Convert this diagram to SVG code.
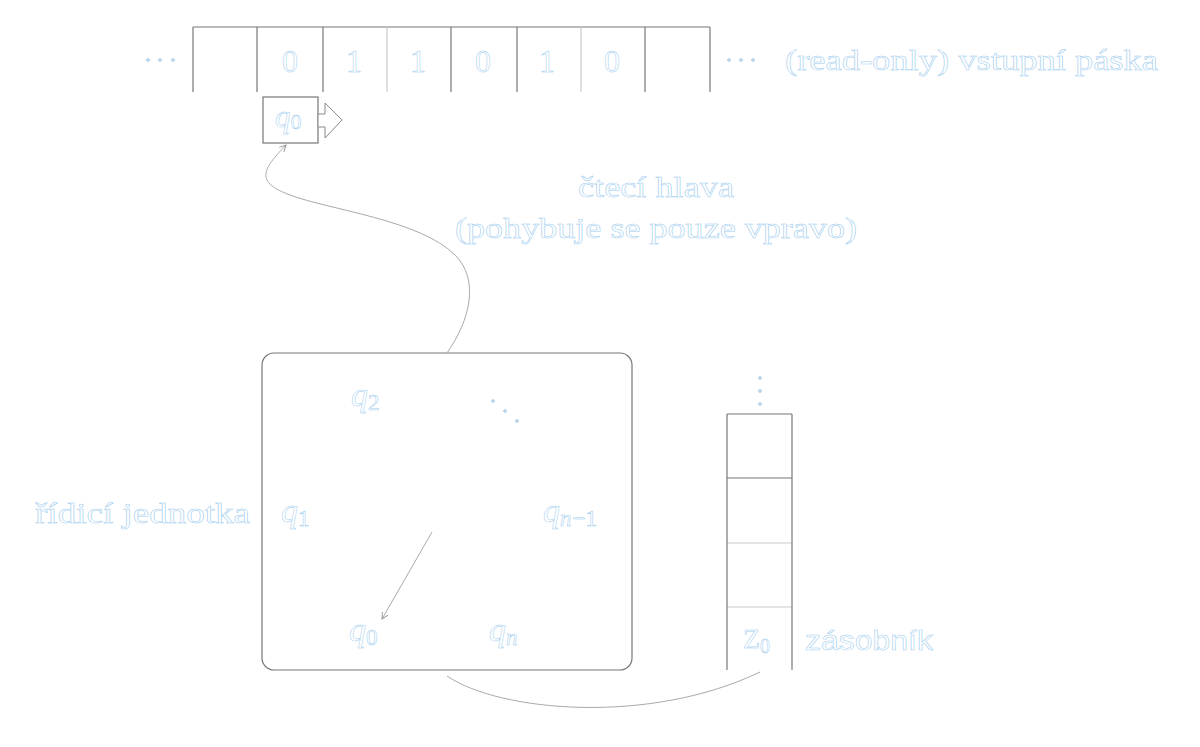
<svg xmlns="http://www.w3.org/2000/svg" width="1200" height="747" viewBox="0 0 1200 747">
<style>
.t{font-family:"Liberation Serif",serif;fill:#fff;stroke:#9ccbee;stroke-width:0.5}
.s{font-family:"Liberation Sans",sans-serif;fill:#fff;stroke:#9ccbee;stroke-width:0.5}
.m{font-family:"Liberation Serif",serif;font-style:italic;fill:#fff;stroke:#9ccbee;stroke-width:0.5}
.ln{fill:none;stroke:#777;stroke-width:1.2}
.lt{fill:none;stroke:#ccc;stroke-width:1.2}
.c{fill:none;stroke:#aaa;stroke-width:1}
.dot{fill:#fff;stroke:#7aaed8;stroke-width:0.8}
</style>
<defs>
<marker id="ah" viewBox="0 0 10 10" refX="9" refY="5" markerWidth="8" markerHeight="8" orient="auto" markerUnits="userSpaceOnUse">
<path d="M1,1 L9,5 L1,9" fill="none" stroke="#999" stroke-width="1.2"/>
</marker>
</defs>
<rect width="1200" height="747" fill="#fff"/>

<g id="tape">
<line class="ln" x1="193" y1="27" x2="710" y2="27"/>
<line class="ln" x1="193" y1="27" x2="193" y2="92"/>
<line class="ln" x1="257" y1="27" x2="257" y2="92"/>
<line class="ln" x1="323" y1="27" x2="323" y2="92"/>
<line class="lt" x1="387" y1="27" x2="387" y2="92"/>
<line class="ln" x1="451" y1="27" x2="451" y2="92"/>
<line class="ln" x1="517" y1="27" x2="517" y2="92"/>
<line class="lt" x1="581" y1="27" x2="581" y2="92"/>
<line class="ln" x1="645" y1="27" x2="645" y2="92"/>
<line class="ln" x1="710" y1="27" x2="710" y2="92"/>
<g font-size="32" text-anchor="middle">
<text class="t" x="290" y="72">0</text>
<text class="t" x="354" y="72">1</text>
<text class="t" x="418" y="72">1</text>
<text class="t" x="483" y="72">0</text>
<text class="t" x="547" y="72">1</text>
<text class="t" x="612" y="72">0</text>
</g>
<circle class="dot" cx="148" cy="60" r="1.3"/><circle class="dot" cx="160" cy="60" r="1.3"/><circle class="dot" cx="173" cy="60" r="1.3"/>
<circle class="dot" cx="729" cy="60" r="1.3"/><circle class="dot" cx="741" cy="60" r="1.3"/><circle class="dot" cx="753" cy="60" r="1.3"/>
<text class="t" x="785" y="70" font-size="29" textLength="373" lengthAdjust="spacingAndGlyphs">(read-only) vstupní páska</text>
</g>

<g id="head">
<rect class="ln" x="263" y="97" width="55" height="46"/>
<polygon points="318,114 325,114 325,103 342,120 325,138 325,127 318,127" fill="#fff" stroke="#888" stroke-width="1"/>
<text class="m" x="275" y="127" font-size="31">q<tspan font-size="22" dy="2" font-style="normal">0</tspan></text>
<text class="t" x="578" y="197" font-size="29" textLength="156" lengthAdjust="spacingAndGlyphs">čtecí hlava</text>
<text class="t" x="455" y="238" font-size="29" textLength="402" lengthAdjust="spacingAndGlyphs">(pohybuje se pouze vpravo)</text>
</g>

<g id="control">
<rect class="ln" x="262" y="353" width="370" height="317" rx="12" ry="12"/>
<text class="m" x="351" y="406" font-size="34">q<tspan font-size="23" dy="4" font-style="normal">2</tspan></text>
<circle class="dot" cx="493" cy="401" r="1.3"/><circle class="dot" cx="505" cy="411" r="1.3"/><circle class="dot" cx="517" cy="421" r="1.3"/>
<text class="m" x="281" y="522" font-size="34">q<tspan font-size="23" dy="4" font-style="normal">1</tspan></text>
<text class="m" x="543" y="522" font-size="34">q<tspan font-size="23" dy="4">n</tspan><tspan font-size="23" font-style="normal" dx="1">−1</tspan></text>
<text class="m" x="349" y="641" font-size="34">q<tspan font-size="23" dy="4" font-style="normal">0</tspan></text>
<text class="m" x="489" y="641" font-size="34">q<tspan font-size="23" dy="4">n</tspan></text>
<text class="t" x="35" y="523" font-size="29" textLength="215" lengthAdjust="spacingAndGlyphs">řídicí jednotka</text>
</g>

<g id="stack">
<line class="ln" x1="727" y1="414" x2="792" y2="414"/>
<line class="ln" x1="727" y1="478" x2="792" y2="478"/>
<line class="lt" x1="727" y1="543" x2="792" y2="543"/>
<line class="lt" x1="727" y1="607" x2="792" y2="607"/>
<line class="ln" x1="727" y1="414" x2="727" y2="670"/>
<line class="ln" x1="792" y1="414" x2="792" y2="670"/>
<circle class="dot" cx="760" cy="378" r="1.3"/><circle class="dot" cx="760" cy="391" r="1.3"/><circle class="dot" cx="760" cy="404" r="1.3"/>
<text class="t" x="743" y="648" font-size="28">Z<tspan font-size="20" dy="5">0</tspan></text>
<text class="s" x="805" y="650" font-size="27" textLength="128" lengthAdjust="spacingAndGlyphs">zásobník</text>
</g>

<g id="connectors">
<path class="c" d="M447,353 C470,320 480,280 455,255 C420,220 330,210 290,195 C255,182 262,170 286,145" marker-end="url(#ah)"/>
<line class="c" x1="432" y1="532" x2="382" y2="619" marker-end="url(#ah)"/>
<path class="c" d="M447,676 C500,712 650,725 760,672"/>
</g>
</svg>
